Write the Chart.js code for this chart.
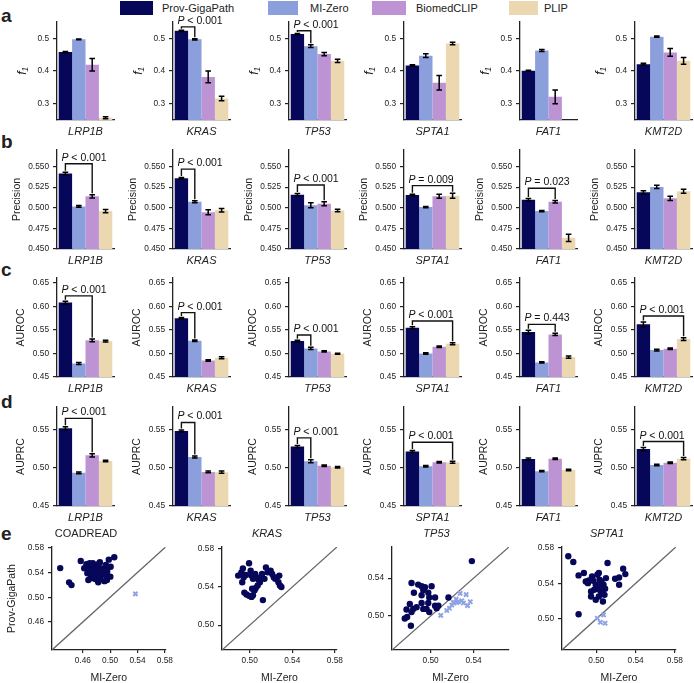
<!DOCTYPE html>
<html>
<head>
<meta charset="utf-8">
<script src="https://cdn.jsdelivr.net/npm/chart.js@4.4.0/dist/chart.umd.min.js"></script>
<style>
  body { margin: 0; background: #fff; width: 694px; height: 683px; overflow: hidden; position: relative;
         font-family: "Liberation Sans", Arial, sans-serif; color: #222; }
  canvas { position: absolute; }
  .tag { position: absolute; left: 1px; font-weight: bold; font-size: 19px; line-height: 19px; }
  .sw { position: absolute; top: 1px; height: 14px; }
  .lt { position: absolute; top: 1px; font-size: 11px; line-height: 14px; }
</style>
</head>
<body>
<div class="tag" style="top:6px">a</div>
<div class="tag" style="top:132px">b</div>
<div class="tag" style="top:260px">c</div>
<div class="tag" style="top:392px">d</div>
<div class="tag" style="top:524px">e</div>
<div id="legend"></div>
<script>
// ─── Data ─────────────────────────────────────────────────────────────
const models = ['Prov-GigaPath', 'MI-Zero', 'BiomedCLIP', 'PLIP'];
const colors = ['#07075a', '#8b9fdc', '#bd93d3', '#ecd8b0'];
const genes = ['LRP1B', 'KRAS', 'TP53', 'SPTA1', 'FAT1', 'KMT2D'];

// one row per gene, one value per model
const f1Mean = [[0.458, 0.497, 0.419, 0.257], [0.523, 0.497, 0.382, 0.316], [0.513, 0.476, 0.452, 0.431],
                [0.417, 0.447, 0.364, 0.484], [0.401, 0.463, 0.321, null], [0.421, 0.505, 0.457, 0.431]];
const f1Err = [[0.002, 0.001, 0.019, 0.003], [0.002, 0.002, 0.018, 0.007], [0.002, 0.004, 0.005, 0.005],
               [0.002, 0.006, 0.022, 0.004], [0.001, 0.003, 0.021, null], [0.003, 0.002, 0.012, 0.010]];
const f1Ticks = [0.3, 0.4, 0.5];
const f1Range = [0.25, 0.55];
const f1Sig = [[1, 1, 0.535, 'P < 0.001'], [2, 1, 0.523, 'P < 0.001']];

const precMean = [[0.5415, 0.5016, 0.5138, 0.4960], [0.5358, 0.5073, 0.4945, 0.4970], [0.5159, 0.5030, 0.5049, 0.4967],
                  [0.5154, 0.5008, 0.5140, 0.5146], [0.5098, 0.4960, 0.5073, 0.4635], [0.5187, 0.5252, 0.5114, 0.5200]];
const precErr = [[0.0015, 0.001, 0.002, 0.002], [0.001, 0.0012, 0.003, 0.002], [0.0015, 0.003, 0.0025, 0.0015],
                 [0.001, 0.0008, 0.0025, 0.003], [0.0015, 0.0008, 0.0015, 0.0045], [0.002, 0.002, 0.0025, 0.0025]];
const precTicks = [0.45, 0.475, 0.5, 0.525, 0.55];
const precRange = [0.45, 0.57];
const precSig = [[0, 2, 0.5533, 'P < 0.001'], [1, 1, 0.5468, 'P < 0.001'], [2, 2, 0.5276, 'P < 0.001'],
                 [3, 3, 0.5268, 'P = 0.009'], [4, 2, 0.5236, 'P = 0.023']];

const aurocMean = [[0.6078, 0.4787, 0.5277, 0.5262], [0.5745, 0.5270, 0.4851, 0.4908], [0.5262, 0.5106, 0.5043, 0.4993],
                   [0.5546, 0.5000, 0.5142, 0.5206], [0.5454, 0.4809, 0.5404, 0.4922], [0.5617, 0.5071, 0.5099, 0.5305]];
const aurocErr = [[0.003, 0.002, 0.003, 0.002], [0.0015, 0.0015, 0.0015, 0.002], [0.002, 0.0025, 0.0015, 0.001],
                  [0.002, 0.0015, 0.0015, 0.002], [0.004, 0.0012, 0.0025, 0.0025], [0.005, 0.002, 0.0015, 0.003]];
const aurocTicks = [0.45, 0.5, 0.55, 0.6, 0.65];
const aurocRange = [0.45, 0.66];
const aurocSig = [[0, 2, 0.622, 'P < 0.001'], [1, 1, 0.5865, 'P < 0.001'], [2, 1, 0.539, 'P < 0.001'],
                  [3, 3, 0.5688, 'P < 0.001'], [4, 2, 0.5617, 'P = 0.443'], [5, 3, 0.5794, 'P < 0.001']];

const auprcMean = [[0.5520, 0.4935, 0.5165, 0.5091], [0.5485, 0.5143, 0.4948, 0.4944], [0.5281, 0.5087, 0.5030, 0.5009],
                   [0.5216, 0.5022, 0.5074, 0.5074], [0.5117, 0.4957, 0.5121, 0.4974], [0.5247, 0.5039, 0.5069, 0.5121]];
const auprcErr = [[0.002, 0.001, 0.002, 0.001], [0.0012, 0.0012, 0.001, 0.0015], [0.0015, 0.002, 0.001, 0.001],
                  [0.0012, 0.001, 0.001, 0.0012], [0.0012, 0.0008, 0.001, 0.001], [0.002, 0.001, 0.001, 0.0015]];
const auprcTicks = [0.45, 0.5, 0.55];
const auprcRange = [0.45, 0.58];
const auprcSig = [[0, 2, 0.565, 'P < 0.001'], [1, 1, 0.5597, 'P < 0.001'], [2, 1, 0.5394, 'P < 0.001'],
                  [3, 3, 0.5338, 'P < 0.001'], [5, 3, 0.5346, 'P < 0.001']];

// scatter: [MI-Zero, Prov-GigaPath]
const coadWin = [[0.4270,0.5470],[0.4400,0.5240],[0.4435,0.5196],[0.4570,0.5585],[0.4621,0.5468],[0.4653,0.5533],
  [0.4677,0.5468],[0.4700,0.5549],[0.4723,0.5511],[0.4747,0.5441],[0.4770,0.5522],[0.4793,0.5479],[0.4817,0.5414],
  [0.4840,0.5549],[0.4863,0.5457],[0.4667,0.5386],[0.4714,0.5305],[0.4761,0.5343],[0.4793,0.5386],[0.4826,0.5359],
  [0.4854,0.5316],[0.4887,0.5403],[0.4910,0.5468],[0.4933,0.5359],[0.4957,0.5414],[0.4826,0.5240],[0.4917,0.5260],
  [0.4953,0.5277],[0.5003,0.5332],[0.4980,0.5606],[0.5060,0.5645],[0.5007,0.5492],[0.4938,0.5522],[0.4733,0.5386],
  [0.4779,0.5294],[0.4686,0.5435],[0.4850,0.5564],[0.4807,0.5441],[0.4901,0.5370],[0.4747,0.5549],[0.4681,0.5277],
  [0.4840,0.5278],[0.4947,0.5451]];
const coadLose = [[0.5369, 0.5055]];
const krasWin = [[0.4892,0.5520],[0.4922,0.5554],[0.4936,0.5595],[0.4944,0.5502],[0.4930,0.5451],[0.4965,0.5527],
  [0.4994,0.5650],[0.5009,0.5571],[0.5017,0.5520],[0.5031,0.5486],[0.5052,0.5537],[0.5066,0.5502],[0.5081,0.5479],
  [0.5096,0.5451],[0.5110,0.5492],[0.5116,0.5537],[0.5153,0.5605],[0.5168,0.5554],[0.5197,0.5571],[0.5211,0.5537],
  [0.5226,0.5502],[0.5240,0.5486],[0.5255,0.5502],[0.5270,0.5451],[0.5284,0.5417],[0.5298,0.5400],[0.5278,0.5520],
  [0.4950,0.5342],[0.4970,0.5322],[0.4994,0.5308],[0.5017,0.5297],[0.5031,0.5315],[0.5046,0.5366],[0.5057,0.5390],
  [0.5023,0.5383],[0.5075,0.5417],[0.5124,0.5263],[0.5139,0.5486]];
const krasLose = [];
const tp53Win = [[0.5384,0.5581],[0.4822,0.5349],[0.4884,0.5332],[0.4916,0.5315],[0.4947,0.5304],[0.5009,0.5315],
  [0.4931,0.5274],[0.4844,0.5246],[0.4978,0.5246],[0.4916,0.5219],[0.4987,0.5195],[0.5041,0.5195],[0.5166,0.5195],
  [0.4806,0.5127],[0.4916,0.5137],[0.4978,0.5137],[0.5041,0.5109],[0.5056,0.5082],[0.4775,0.5068],[0.4838,0.5075],
  [0.4869,0.5092],[0.4931,0.5075],[0.4962,0.5075],[0.4987,0.5041],[0.4822,0.5041],[0.4759,0.4973],[0.4781,0.4990],
  [0.4816,0.4897],[0.5072,0.5109]];
const tp53Lose = [[0.5094,0.5007],[0.5150,0.5058],[0.5175,0.5082],[0.5197,0.5116],[0.5219,0.5137],[0.5244,0.5144],
  [0.5275,0.5239],[0.5259,0.5151],[0.5291,0.5161],[0.5306,0.5137],[0.5331,0.5226],[0.5344,0.5109],[0.5369,0.5151],
  [0.5238,0.5178],[0.5212,0.5144]];
const spta1Win = [[0.4714,0.5705],[0.4765,0.5641],[0.4819,0.5490],[0.4873,0.5517],[0.4892,0.5422],[0.4914,0.5403],
  [0.4924,0.5434],[0.4956,0.5479],[0.4968,0.5430],[0.5010,0.5498],[0.5025,0.5517],[0.4994,0.5385],[0.5032,0.5441],
  [0.5051,0.5422],[0.5073,0.5385],[0.5098,0.5460],[0.5114,0.5630],[0.4946,0.5309],[0.4978,0.5328],[0.5010,0.5339],
  [0.5041,0.5317],[0.5057,0.5290],[0.5083,0.5271],[0.5025,0.5253],[0.4994,0.5215],[0.5067,0.5196],[0.4946,0.5253],
  [0.4819,0.5053],[0.5191,0.5452],[0.5232,0.5467],[0.5232,0.5385],[0.5273,0.5566],[0.5295,0.5505],[0.5025,0.5366],
  [0.5089,0.5339]];
const spta1Lose = [[0.5010,0.5008],[0.5073,0.5045],[0.5041,0.4962],[0.5089,0.4951]];

const scTitles = ['COADREAD', 'KRAS', 'TP53', 'SPTA1'];
const scWin = [coadWin, krasWin, tp53Win, spta1Win];
const scLose = [coadLose, krasLose, tp53Lose, spta1Lose];
const scRange = [[0.415, 0.581], [0.474, 0.582], [0.464, 0.573], [0.465, 0.581]];
const scTicks = [[0.46, 0.50, 0.54, 0.58], [0.50, 0.54, 0.58], [0.50, 0.54], [0.50, 0.54, 0.58]];

// ─── Layout / style ───────────────────────────────────────────────────
const FONT = '"Liberation Sans", Arial, sans-serif';
const AXIS = '#222', TXT = '#222';
const AX0 = 57.3, AXSTEP = 115.6, PLOT_W = 57;
const ROW_TOP = [22, 150, 278, 407];
const ROW_BOT = [120, 249, 377, 506];
const SC_LEFT = [52, 222, 392, 562];
const LOSE_COLOR = '#8fa3e3';

const rows = [
  { mean: f1Mean, err: f1Err, ticks: f1Ticks, range: f1Range, sig: f1Sig, dec: 1, title: 'f\u2081', italic: true, tOff: 34 },
  { mean: precMean, err: precErr, ticks: precTicks, range: precRange, sig: precSig, dec: 3, title: 'Precision', tOff: 40 },
  { mean: aurocMean, err: aurocErr, ticks: aurocTicks, range: aurocRange, sig: aurocSig, dec: 2, title: 'AUROC', tOff: 36 },
  { mean: auprcMean, err: auprcErr, ticks: auprcTicks, range: auprcRange, sig: auprcSig, dec: 2, title: 'AUPRC', tOff: 36 }
];

// ─── Legend (HTML) ───────────────────────────────────────────────────
const legSw = [[120, 33, 162], [268, 30, 310], [372, 34, 416], [509, 29, 544]];
const leg = document.getElementById('legend');
models.forEach((m, k) => {
  const [x, w, tx] = legSw[k];
  leg.insertAdjacentHTML('beforeend',
    `<div class="sw" style="left:${x}px;width:${w}px;background:${colors[k]}"></div>` +
    `<div class="lt" style="left:${tx}px">${m}</div>`);
});

// ─── Plugins ──────────────────────────────────────────────────────────
const errPlugin = {
  id: 'errbars',
  afterDatasetsDraw(chart, args, opts) {
    if (!opts.err) return;
    const ctx = chart.ctx, y = chart.scales.y;
    ctx.save();
    ctx.strokeStyle = '#000';
    ctx.lineWidth = 1.5;
    chart.data.datasets.forEach((ds, k) => {
      const v = ds.data[0], e = opts.err[k];
      if (v == null || e == null) return;
      const x = chart.getDatasetMeta(k).data[0].x;
      const y1 = y.getPixelForValue(v + e), y2 = y.getPixelForValue(v - e);
      ctx.beginPath();
      ctx.moveTo(x, y1); ctx.lineTo(x, y2);
      ctx.moveTo(x - 2.8, y1); ctx.lineTo(x + 2.8, y1);
      ctx.moveTo(x - 2.8, y2); ctx.lineTo(x + 2.8, y2);
      ctx.stroke();
    });
    ctx.restore();
  }
};

const sigPlugin = {
  id: 'sig',
  afterDatasetsDraw(chart, args, opts) {
    if (!opts.items || !opts.items.length) return;
    const ctx = chart.ctx, y = chart.scales.y, ds = chart.data.datasets;
    ctx.save();
    opts.items.forEach(([g, to, level, txt]) => {
      const x0 = chart.getDatasetMeta(0).data[0].x;
      const x1 = chart.getDatasetMeta(to).data[0].x;
      const t0 = y.getPixelForValue(ds[0].data[0] + (opts.err[0] || 0)) - 1.5;
      const t1 = y.getPixelForValue(ds[to].data[0] + (opts.err[to] || 0)) - 1.5;
      const ly = y.getPixelForValue(level);
      ctx.strokeStyle = '#111';
      ctx.lineWidth = 1.4;
      ctx.beginPath();
      ctx.moveTo(x0, t0); ctx.lineTo(x0, ly); ctx.lineTo(x1, ly); ctx.lineTo(x1, t1);
      ctx.stroke();
      ctx.fillStyle = '#111';
      ctx.textBaseline = 'alphabetic';
      let tx = x0 - 4;
      const ty = ly - 3;
      ctx.font = `italic 10.5px ${FONT}`;
      ctx.fillText('P', tx, ty);
      tx += ctx.measureText('P').width;
      ctx.font = `10.5px ${FONT}`;
      ctx.fillText(txt.slice(1), tx, ty);
    });
    ctx.restore();
  }
};

function makeCanvas(left, top, w, h) {
  const cv = document.createElement('canvas');
  cv.width = w; cv.height = h;
  cv.style.left = left + 'px'; cv.style.top = top + 'px';
  cv.style.width = w + 'px'; cv.style.height = h + 'px';
  document.body.appendChild(cv);
  return cv;
}

// ─── Bar panels (rows a-d) ────────────────────────────────────────────
function barPanel(r, g) {
  const R = rows[r];
  const YW = 57, PT = 26, XH = 22, PR = 1;
  const left = Math.round(AX0 + g * AXSTEP) - YW;
  const top = ROW_TOP[r] - PT;
  const W = YW + PLOT_W + PR, H = PT + (ROW_BOT[r] - ROW_TOP[r]) + XH;
  const cv = makeCanvas(left, top, W, H);
  const tSize = R.italic ? 12.5 : 10.5;
  new Chart(cv, {
    type: 'bar',
    data: {
      labels: [genes[g]],
      datasets: models.map((m, k) => ({
        label: m, data: [R.mean[g][k]], backgroundColor: colors[k],
        borderWidth: 0, barPercentage: 1, categoryPercentage: 0.94
      }))
    },
    options: {
      responsive: false, animation: false, events: [],
      layout: { padding: { top: PT, right: PR, left: 0, bottom: 0 } },
      plugins: {
        legend: { display: false }, tooltip: { enabled: false },
        errbars: { err: R.err[g] },
        sig: { items: R.sig.filter(s => s[0] === g), err: R.err[g] }
      },
      scales: {
        x: {
          grid: { display: false, drawTicks: false, tickLength: 0 },
          border: { display: true, color: AXIS, width: 1.3 },
          ticks: { color: TXT, padding: 5, font: { family: FONT, size: 11, style: 'italic' } },
          afterFit: s => { s.height = XH; }
        },
        y: {
          min: R.range[0], max: R.range[1],
          afterBuildTicks: s => { s.ticks = R.ticks.map(v => ({ value: v })); },
          ticks: { color: TXT, padding: 4, font: { family: FONT, size: 8.3 }, callback: v => v.toFixed(R.dec) },
          grid: { drawOnChartArea: false, drawTicks: true, tickLength: 4, color: AXIS, lineWidth: 1.2 },
          border: { display: true, color: AXIS, width: 1.3 },
          title: {
            display: true, text: R.title, color: TXT,
            font: { family: FONT, size: tSize, style: R.italic ? 'italic' : 'normal' },
            padding: { top: YW - R.tOff - tSize * 0.6, bottom: 0 }
          },
          afterFit: s => { s.width = YW; }
        }
      }
    },
    plugins: [errPlugin, sigPlugin]
  });
}

for (let r = 0; r < 4; r++) for (let g = 0; g < 6; g++) barPanel(r, g);

// ─── Scatter panels (row e) ───────────────────────────────────────────
function scatterPanel(i) {
  const YW = i === 0 ? 52 : 30, PT = 24, XH = 34, PR = 4;
  const plotW = i === 2 ? 119 : 120, plotH = 103;
  const left = SC_LEFT[i] - YW, top = 547 - PT;
  const cv = makeCanvas(left, top, YW + plotW + PR, PT + plotH + XH);
  const [lo, hi] = scRange[i];
  const tickFont = { family: FONT, size: 8.3 };
  new Chart(cv, {
    type: 'scatter',
    data: {
      datasets: [
        { data: scWin[i].map(p => ({ x: p[0], y: p[1] })), backgroundColor: colors[0],
          pointRadius: 3.2, borderWidth: 0, order: 0 },
        { data: scLose[i].map(p => ({ x: p[0], y: p[1] })), pointStyle: 'crossRot',
          borderColor: LOSE_COLOR, backgroundColor: LOSE_COLOR, pointRadius: 3, borderWidth: 2, order: 1 },
        { data: [{ x: lo, y: lo }, { x: hi, y: hi }], showLine: true, borderColor: '#666',
          borderWidth: 1.3, pointRadius: 0, order: 2 }
      ]
    },
    options: {
      responsive: false, animation: false, events: [],
      layout: { padding: { top: 4.8, right: PR, left: 0, bottom: 0 } },
      plugins: {
        legend: { display: false }, tooltip: { enabled: false },
        title: {
          display: true, text: scTitles[i], color: TXT,
          font: { family: FONT, size: 11, weight: 'normal', style: i === 0 ? 'normal' : 'italic' },
          padding: { top: 0, bottom: 6 }
        }
      },
      scales: {
        x: {
          type: 'linear', min: lo, max: hi,
          afterBuildTicks: s => { s.ticks = scTicks[i].map(v => ({ value: v })); },
          ticks: { color: TXT, padding: 3, font: tickFont, callback: v => v.toFixed(2) },
          grid: { drawOnChartArea: false, drawTicks: true, tickLength: 3, color: AXIS, lineWidth: 1.2 },
          border: { display: true, color: AXIS, width: 1.3 },
          title: { display: true, text: 'MI-Zero', color: TXT, font: { family: FONT, size: 10.5 }, padding: { top: 0, bottom: 0 } },
          afterFit: s => { s.height = XH; }
        },
        y: {
          type: 'linear', min: lo, max: hi,
          afterBuildTicks: s => { s.ticks = scTicks[i].map(v => ({ value: v })); },
          ticks: { color: TXT, padding: 4, font: tickFont, callback: v => v.toFixed(2) },
          grid: { drawOnChartArea: false, drawTicks: true, tickLength: 4, color: AXIS, lineWidth: 1.2 },
          border: { display: true, color: AXIS, width: 1.3 },
          title: {
            display: i === 0, text: 'Prov-GigaPath', color: TXT,
            font: { family: FONT, size: 10.5 }, padding: { top: 6, bottom: 0 }
          },
          afterFit: s => { s.width = YW; }
        }
      }
    }
  });
}

for (let i = 0; i < 4; i++) scatterPanel(i);
</script>
</body>
</html>
